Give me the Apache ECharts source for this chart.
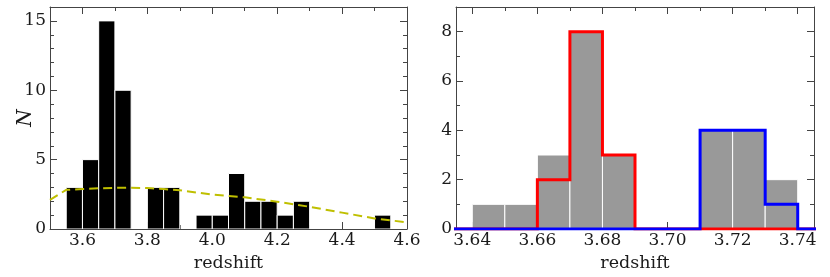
<!DOCTYPE html>
<html>
<head>
<meta charset="utf-8">
<script src="https://cdn.jsdelivr.net/npm/echarts@6/dist/echarts.min.js"></script>
<style>
html,body{margin:0;padding:0;background:#fff;}
#chart{width:830px;height:277px;}
</style>
</head>
<body>
<div id="chart"></div>
<script>
// ---------- Data ----------
// Left panel: histogram of redshifts (bin width 0.05)
const leftBinWidth = 0.05;
const leftBinLo = [3.55, 3.60, 3.65, 3.70, 3.80, 3.85, 3.95, 4.00, 4.05, 4.10, 4.15, 4.20, 4.25, 4.50];
const leftCounts = [3, 5, 15, 10, 3, 3, 1, 1, 4, 2, 2, 1, 2, 1];
// Left panel: dashed curve
const curveX = [3.50, 3.55, 3.60, 3.65, 3.70, 3.75, 3.80, 3.85, 3.90, 4.00, 4.10, 4.20, 4.30, 4.40, 4.50, 4.60];
const curveY = [2.10, 2.82, 2.88, 2.93, 2.97, 2.98, 2.95, 2.88, 2.79, 2.48, 2.28, 1.97, 1.60, 1.18, 0.76, 0.48];
// Left panel ticks
const leftXMajor = [3.6, 3.8, 4.0, 4.2, 4.4, 4.6];
const leftXMinor = [3.5, 3.7, 3.9, 4.1, 4.3, 4.5];
const leftYMajor = [0, 5, 10, 15];
const leftYMinor = [1, 2, 3, 4, 6, 7, 8, 9, 11, 12, 13, 14, 16];

// Right panel: histogram (bin width 0.01)
const rightBinWidth = 0.01;
const rightBinLo = [3.64, 3.65, 3.66, 3.67, 3.68, 3.69, 3.70, 3.71, 3.72, 3.73];
const grayCounts = [1, 1, 3, 8, 3, 0, 0, 4, 4, 2];
const redCounts  = [0, 0, 2, 8, 3, 0, 0, 0, 0, 0];
const blueCounts = [0, 0, 0, 0, 0, 0, 0, 4, 4, 1];
// Right panel ticks
const rightXMajor = [3.64, 3.66, 3.68, 3.70, 3.72, 3.74];
const rightXMinor = [3.65, 3.67, 3.69, 3.71, 3.73];
const rightYMajor = [0, 2, 4, 6, 8];
const rightYMinor = [1, 3, 5, 7];

// ---------- Helpers ----------
const FONT = "'DejaVu Serif', serif";
const AXC = '#444';
const LBL = '#1a1a1a';

function fmt(decimals) { return v => Number(v).toFixed(decimals); }

function makeX(grid, min, max, major, minor, decimals, withName) {
  const base = {
    type: 'value', gridIndex: grid, min: min, max: max,
    splitLine: {show: false}, axisPointer: {show: false}
  };
  return [
    Object.assign({}, base, {
      position: 'bottom',
      axisLine: {show: true, onZero: false, lineStyle: {color: AXC, width: 1}},
      axisTick: {show: true, inside: true, length: 7, customValues: major, lineStyle: {color: AXC}},
      axisLabel: {show: true, customValues: major, formatter: fmt(decimals), margin: 3,
        fontFamily: FONT, fontSize: 17, color: LBL},
      name: withName ? 'redshift' : '', nameLocation: 'middle', nameGap: 25, nameMoveOverlap: false,
      nameTextStyle: {fontFamily: FONT, fontSize: 17.5, color: LBL}
    }),
    Object.assign({}, base, {
      position: 'bottom',
      axisLine: {show: false, onZero: false},
      axisTick: {show: true, inside: true, length: 4, customValues: minor, lineStyle: {color: AXC}},
      axisLabel: {show: false}
    }),
    Object.assign({}, base, {
      position: 'top',
      axisLine: {show: true, onZero: false, lineStyle: {color: AXC, width: 1}},
      axisTick: {show: true, inside: true, length: 7, customValues: major, lineStyle: {color: AXC}},
      axisLabel: {show: false}
    }),
    Object.assign({}, base, {
      position: 'top',
      axisLine: {show: false, onZero: false},
      axisTick: {show: true, inside: true, length: 4, customValues: minor, lineStyle: {color: AXC}},
      axisLabel: {show: false}
    })
  ];
}

function makeY(grid, min, max, major, minor, name) {
  const base = {
    type: 'value', gridIndex: grid, min: min, max: max,
    splitLine: {show: false}, axisPointer: {show: false}
  };
  return [
    Object.assign({}, base, {
      position: 'left',
      axisLine: {show: true, onZero: false, lineStyle: {color: AXC, width: 1}},
      axisTick: {show: true, inside: true, length: 7, customValues: major, lineStyle: {color: AXC}},
      axisLabel: {show: true, customValues: major, margin: 4,
        fontFamily: FONT, fontSize: 17, color: LBL},
      name: name, nameLocation: 'middle', nameGap: 14, nameMoveOverlap: false,
      nameTextStyle: {fontFamily: FONT, fontSize: 20, fontStyle: 'italic', color: LBL}
    }),
    Object.assign({}, base, {
      position: 'left',
      axisLine: {show: false, onZero: false},
      axisTick: {show: true, inside: true, length: 4, customValues: minor, lineStyle: {color: AXC}},
      axisLabel: {show: false}
    }),
    Object.assign({}, base, {
      position: 'right',
      axisLine: {show: true, onZero: false, lineStyle: {color: AXC, width: 1}},
      axisTick: {show: true, inside: true, length: 7, customValues: major, lineStyle: {color: AXC}},
      axisLabel: {show: false}
    }),
    Object.assign({}, base, {
      position: 'right',
      axisLine: {show: false, onZero: false},
      axisTick: {show: true, inside: true, length: 4, customValues: minor, lineStyle: {color: AXC}},
      axisLabel: {show: false}
    })
  ];
}

function barData(lo, counts, w) {
  const out = [];
  for (let i = 0; i < lo.length; i++) {
    if (counts[i] > 0) out.push([lo[i], lo[i] + w, counts[i]]);
  }
  return out;
}

function stepData(lo, counts, w, xStart, xEnd) {
  const pts = [[xStart, 0]];
  for (let i = 0; i < lo.length; i++) {
    pts.push([lo[i], counts[i]]);
    pts.push([lo[i] + w, counts[i]]);
  }
  pts.push([lo[lo.length - 1] + w, 0]);
  pts.push([xEnd, 0]);
  return pts;
}

function barSeries(xIdx, yIdx, data, fill) {
  return {
    type: 'custom', xAxisIndex: xIdx, yAxisIndex: yIdx,
    data: data, encode: {x: [0, 1], y: 2}, clip: true, silent: true,
    renderItem: function (params, api) {
      const p0 = api.coord([api.value(0), 0]);
      const p1 = api.coord([api.value(1), api.value(2)]);
      return {
        type: 'rect',
        shape: {x: p0[0], y: p1[1], width: p1[0] - p0[0], height: p0[1] - p1[1]},
        style: {fill: fill, stroke: '#ffffff', lineWidth: 1}
      };
    }
  };
}

const xAxes = makeX(0, 3.5, 4.6, leftXMajor, leftXMinor, 1, true)
  .concat(makeX(1, 3.635, 3.745, rightXMajor, rightXMinor, 2, true));
const yAxes = makeY(0, 0, 16, leftYMajor, leftYMinor, 'N')
  .concat(makeY(1, 0, 9, rightYMajor, rightYMinor, ''));

const option = {
  animation: false,
  backgroundColor: '#ffffff',
  textStyle: {fontFamily: FONT},
  grid: [
    {left: 50, right: 423, top: 7, bottom: 48, containLabel: false, outerBoundsMode: 'none'},
    {left: 456, right: 16, top: 7, bottom: 48, containLabel: false, outerBoundsMode: 'none'}
  ],
  xAxis: xAxes,
  yAxis: yAxes,
  series: [
    barSeries(0, 0, barData(leftBinLo, leftCounts, leftBinWidth), '#000000'),
    {
      type: 'line', xAxisIndex: 0, yAxisIndex: 0, silent: true,
      data: curveX.map((x, i) => [x, curveY[i]]),
      showSymbol: false, symbol: 'none',
      lineStyle: {color: '#bfbf00', width: 2, type: [9, 5]}, z: 5
    },
    barSeries(4, 4, barData(rightBinLo, grayCounts, rightBinWidth), '#999999'),
    {
      type: 'line', xAxisIndex: 4, yAxisIndex: 4, silent: true, clip: true,
      data: stepData(rightBinLo, redCounts, rightBinWidth, 3.60, 3.78),
      showSymbol: false, symbol: 'none',
      lineStyle: {color: '#ff0000', width: 3, join: 'miter'}, z: 5
    },
    {
      type: 'line', xAxisIndex: 4, yAxisIndex: 4, silent: true, clip: true,
      data: stepData(rightBinLo, blueCounts, rightBinWidth, 3.60, 3.78),
      showSymbol: false, symbol: 'none',
      lineStyle: {color: '#0000ff', width: 3, join: 'miter'}, z: 6
    }
  ]
};

const chart = echarts.init(document.getElementById('chart'), null, {renderer: 'canvas'});
chart.setOption(option);
</script>
</body>
</html>
